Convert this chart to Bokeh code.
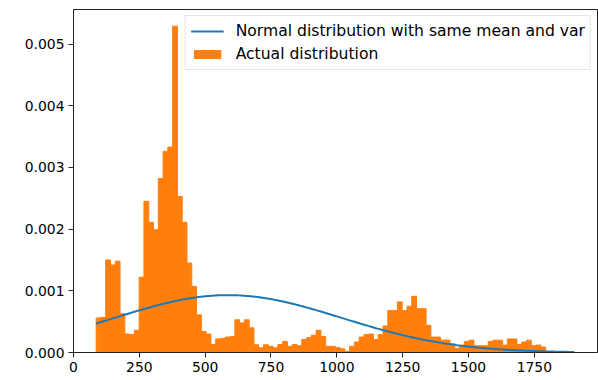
import numpy as np
from bokeh.plotting import figure
from bokeh.models import Range1d, FixedTicker, PrintfTickFormatter, Legend, LegendItem, ColumnDataSource
from bokeh.embed import file_html
from bokeh.resources import INLINE

# ---- data ----
bin_start = 86.0
bin_end = 1902.0
densities = [
    0.00056, 0.00057, 0.00150, 0.00142, 0.00148, 0.00063, 0.00030, 0.00029, 0.00036, 0.00122,
    0.00245, 0.00211, 0.00199, 0.00282, 0.00326, 0.00333, 0.00529, 0.00253, 0.00211, 0.00145,
    0.00107, 0.00061, 0.00034, 0.00030, 0.00013, 0.00022, 0.00023, 0.00025, 0.00026, 0.00053,
    0.00048, 0.00053, 0.00040, 0.000125, 0.000076, 0.000125, 0.00010, 0.000076, 0.00013, 0.00018,
    0.00010, 0.00013, 0.00011, 0.00021, 0.00024, 0.00028, 0.00036, 0.00026, 0.00010, 0.00010,
    0.00008, 0.00006, 0.00002, 0.00010, 0.00017, 0.00025, 0.00029, 0.00030, 0.00021, 0.00029,
    0.00043, 0.00068, 0.00068, 0.00082, 0.00068, 0.00075, 0.00091, 0.00071, 0.00071, 0.00044,
    0.00025, 0.00025, 0.00020, 0.00020, 0.00014, 0.00007, 0.00012, 0.00018, 0.00020, 0.00011,
    0.00011, 0.00011, 0.00018, 0.00020, 0.00020, 0.00012, 0.00022, 0.00022, 0.00013, 0.00017,
    0.00020, 0.00011, 0.00012, 0.00009, 0.0, 0.0, 0.0, 0.0, 0.0, 0.000005,
]
normal_mean = 587.0
normal_std = 429.0
x_ticks = [0, 250, 500, 750, 1000, 1250, 1500, 1750]
y_ticks = [0.000, 0.001, 0.002, 0.003, 0.004, 0.005]
line_label = "Normal distribution with same mean and var"
hist_label = "Actual distribution"

edges = np.linspace(bin_start, bin_end, len(densities) + 1)
hist_src = ColumnDataSource(dict(left=edges[:-1], right=edges[1:], top=densities,
                                 bottom=[0.0] * len(densities)))
xs = np.linspace(bin_start, bin_end, 300)
ys = np.exp(-0.5 * ((xs - normal_mean) / normal_std) ** 2) / (normal_std * np.sqrt(2 * np.pi))
line_src = ColumnDataSource(dict(x=xs, y=ys))

FONT = "DejaVu Sans"
FS = "13.9px"

p = figure(width=598, height=378, output_backend="svg", toolbar_location=None,
           x_range=Range1d(0, 1990), y_range=Range1d(0, 0.00556),
           min_border_left=73, min_border_right=1, min_border_top=9, min_border_bottom=26)
p.background_fill_color = "white"
p.border_fill_color = "white"
p.outline_line_color = "#222222"
p.outline_line_width = 1
p.xgrid.visible = False
p.ygrid.visible = False

quads = p.quad(left="left", right="right", top="top", bottom="bottom", source=hist_src,
               fill_color="#ff7f0e", line_color="#ff7f0e", line_width=1)
line = p.line("x", "y", source=line_src, line_color="#1f77b4", line_width=2)

for ax in (p.xaxis[0], p.yaxis[0]):
    ax.axis_line_color = "#222222"
    ax.axis_line_width = 1
    ax.major_tick_line_color = "#222222"
    ax.major_tick_line_width = 1
    ax.major_tick_out = 5
    ax.major_tick_in = 0
    ax.minor_tick_out = 0
    ax.minor_tick_in = 0
    ax.major_label_text_font = FONT
    ax.major_label_text_font_size = FS
    ax.major_label_text_color = "#000000"
    ax.major_label_standoff = 4

p.xaxis[0].ticker = FixedTicker(ticks=x_ticks)
p.yaxis[0].ticker = FixedTicker(ticks=y_ticks)
p.yaxis[0].formatter = PrintfTickFormatter(format="%.3f")

legend = Legend(items=[LegendItem(label=line_label, renderers=[line]),
                       LegendItem(label=hist_label, renderers=[quads])],
                location="top_right")
legend.margin = 6
legend.padding = 5
legend.spacing = 3
legend.glyph_width = 33
legend.glyph_height = 10
legend.label_height = 20
legend.label_standoff = 12
legend.label_text_font = FONT
legend.label_text_font_size = "15.6px"
legend.label_text_color = "#000000"
legend.border_line_color = "#cccccc"
legend.border_line_width = 1
legend.background_fill_color = "white"
legend.background_fill_alpha = 0.8
p.add_layout(legend)

open("out.html", "w").write(file_html(p, INLINE))
